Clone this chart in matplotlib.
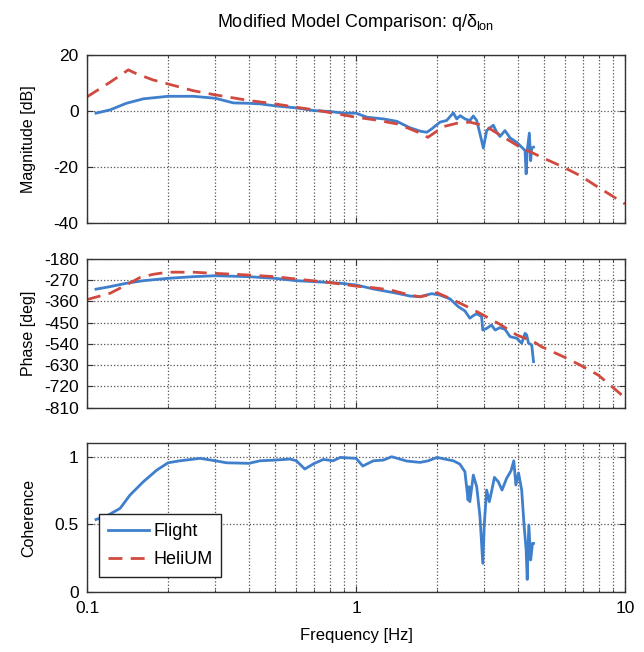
import numpy as np
import matplotlib
matplotlib.use("Agg")
import matplotlib.pyplot as plt
from matplotlib.ticker import FixedLocator, LogLocator, NullFormatter, FixedFormatter

FONT = ['Liberation Sans', 'DejaVu Sans']
plt.rcParams['font.family'] = FONT
plt.rcParams['mathtext.fontset'] = 'custom'
plt.rcParams['mathtext.rm'] = 'Liberation Sans'
plt.rcParams['mathtext.it'] = 'Liberation Sans'
plt.rcParams['axes.unicode_minus'] = False

# ---------------- data ----------------
mag_flight_f = [0.108, 0.1218, 0.140, 0.162, 0.2, 0.248, 0.3, 0.35, 0.4, 0.44, 0.5, 0.6, 0.7, 0.8, 0.9,
                1.0, 1.099, 1.264, 1.417, 1.587, 1.73, 1.832, 1.912, 2.052, 2.173, 2.30, 2.368, 2.44,
                2.543, 2.653, 2.73, 2.81, 2.89, 2.975, 3.06, 3.148, 3.24, 3.334, 3.43, 3.58, 3.74,
                3.96, 4.13, 4.25, 4.29, 4.33, 4.41, 4.46, 4.50, 4.57]
mag_flight_db = [-0.8, 0.36, 2.7, 4.3, 5.2, 5.2, 4.5, 2.85, 2.7, 2.5, 1.8, 1.07, 0.1, -0.2, -0.8,
                 -0.8, -2.25, -2.85, -3.7, -6.0, -7.2, -7.6, -6.4, -4.0, -3.4, -0.7, -2.85, -1.7,
                 -2.85, -3.4, -1.8, -3.4, -8.2, -13.2, -7.0, -6.0, -5.1, -7.6, -9.1, -7.0, -9.6,
                 -11.2, -12.9, -14.1, -22.4, -14.1, -7.9, -17.7, -13.2, -12.9]

mag_model_f = [0.1, 0.1218, 0.1424, 0.1529, 0.1763, 0.2, 0.248, 0.3, 0.4, 0.5, 0.6, 0.7, 0.8, 1.0,
               1.16, 1.417, 1.587, 1.73, 1.85, 1.97, 2.11, 2.37, 2.65, 2.89, 3.15, 3.63, 4.07,
               4.57, 4.90, 5.90, 6.80, 7.96, 10.0]
mag_model_db = [5.0, 10.2, 14.6, 13.2, 11.0, 9.6, 7.2, 5.7, 3.7, 2.5, 1.3, 0.36, -0.6, -2.25,
                -3.1, -4.6, -6.4, -7.9, -9.4, -7.6, -5.6, -4.4, -4.0, -4.9, -6.4, -10.0, -12.9,
                -15.1, -16.5, -20.0, -23.0, -27.2, -33.1]

ph_flight_f = [0.108, 0.122, 0.140, 0.162, 0.2, 0.248, 0.3, 0.4, 0.5, 0.6, 0.7, 0.8, 0.874, 1.0,
               1.16, 1.417, 1.587, 1.73, 1.91, 2.05, 2.236, 2.40, 2.54, 2.65, 2.73, 2.81, 2.93,
               2.96, 3.06, 3.19, 3.29, 3.43, 3.58, 3.74, 3.96, 4.13, 4.25, 4.31, 4.38, 4.50, 4.57]
ph_flight_deg = [-308, -297, -283, -272, -262, -255, -251, -255, -262, -272, -276, -280, -283, -290,
                 -307, -325, -337, -340, -327, -333, -349, -382, -400, -431, -420, -412, -424,
                 -481, -474, -460, -481, -471, -478, -509, -516, -537, -495, -502, -537, -544, -615]

ph_model_f = [0.1, 0.122, 0.14, 0.157, 0.176, 0.2, 0.248, 0.3, 0.4, 0.5, 0.6, 0.7, 0.8, 1.0,
              1.16, 1.34, 1.587, 1.73, 1.91, 2.0, 2.236, 2.59, 2.89, 3.43, 3.96, 4.57, 4.90,
              5.90, 6.80, 7.96, 10.0]
ph_model_deg = [-352, -325, -290, -259, -245, -236, -236, -241, -248, -255, -265, -273, -280, -295,
                -302, -311, -333, -340, -330, -323, -347, -382, -410, -457, -502, -530, -552,
                -594, -629, -672, -768]

coh_f = [0.108, 0.118, 0.1327, 0.1445, 0.162, 0.1815, 0.2, 0.2216, 0.263, 0.3, 0.33, 0.4, 0.44,
         0.5, 0.568, 0.6, 0.645, 0.7, 0.757, 0.822, 0.874, 0.9, 1.0, 1.06, 1.16, 1.264, 1.357,
         1.543, 1.73, 1.857, 2.0, 2.17, 2.30, 2.43, 2.54, 2.61, 2.63, 2.65, 2.73, 2.81, 2.89,
         2.96, 3.0, 3.06, 3.13, 3.19, 3.27, 3.38, 3.49, 3.63, 3.77, 3.86, 3.93, 4.02, 4.13,
         4.21, 4.29, 4.33, 4.39, 4.46, 4.53, 4.57]
coh_val = [0.535, 0.56, 0.617, 0.716, 0.815, 0.90, 0.955, 0.970, 0.988, 0.970, 0.955, 0.951, 0.97,
           0.975, 0.983, 0.97, 0.909, 0.951, 0.98, 0.97, 0.995, 0.993, 0.988, 0.931, 0.970, 0.975,
           1.0, 0.968, 0.958, 0.97, 0.995, 0.98, 0.970, 0.946, 0.889, 0.679, 0.778, 0.667, 0.864,
           0.778, 0.556, 0.21, 0.506, 0.753, 0.667, 0.741, 0.847, 0.815, 0.753, 0.84, 0.896,
           0.970, 0.79, 0.88, 0.753, 0.506, 0.309, 0.091, 0.494, 0.235, 0.358, 0.358]

mag_ticks = [-40, -20, 0, 20]
ph_ticks = [-810, -720, -630, -540, -450, -360, -270, -180]
coh_ticks = [0, 0.5, 1]
coh_labels = ['0', '0.5', '1']
freq_ticks = [0.1, 1, 10]
freq_labels = ['0.1', '1', '10']

BLUE = '#3f7fcc'
RED = '#d04a40'
EDGE = '#333333'

fig = plt.figure(figsize=(6.44, 6.52), dpi=100)
L, W = 0.1351, 0.8354
ax1 = fig.add_axes([L, 0.6575, W, 0.2586])
ax2 = fig.add_axes([L, 0.3747, W, 0.2281])
ax3 = fig.add_axes([L, 0.0925, W, 0.2277])

def style(ax):
    ax.set_xscale('log')
    ax.set_xlim(0.1, 10)
    ax.xaxis.set_major_locator(FixedLocator(freq_ticks))
    ax.xaxis.set_minor_locator(LogLocator(base=10, subs=np.arange(2, 10)))
    ax.xaxis.set_minor_formatter(NullFormatter())
    ax.grid(True, which='major', linestyle=':', color='#555555', linewidth=0.9)
    ax.grid(True, which='minor', axis='x', linestyle=':', color='#555555', linewidth=0.9)
    ax.tick_params(which='both', direction='in', top=True, right=True, colors=EDGE,
                   labelcolor='black', labelsize=12.5)
    ax.tick_params(axis='y', pad=6)
    ax.tick_params(axis='x', pad=7)
    ax.tick_params(which='major', length=4)
    ax.tick_params(which='minor', length=2)
    for s in ax.spines.values():
        s.set_color(EDGE)
        s.set_linewidth(1.0)
    ax.set_axisbelow(True)

for ax in (ax1, ax2, ax3):
    style(ax)

# magnitude
ax1.plot(mag_flight_f, mag_flight_db, color=BLUE, lw=2.0)
ax1.plot(mag_model_f, mag_model_db, color=RED, lw=2.0, dashes=(5, 3))
ax1.set_ylim(-40, 20)
ax1.set_yticks(mag_ticks)
ax1.tick_params(labelbottom=False)
ax1.set_ylabel('Magnitude [dB]', fontsize=11.5)
ax1.set_title(r'Modified Model Comparison: q/$\delta_{\mathrm{lon}}$', fontsize=13, pad=20)

# phase
ax2.plot(ph_flight_f, ph_flight_deg, color=BLUE, lw=2.0)
ax2.plot(ph_model_f, ph_model_deg, color=RED, lw=2.0, dashes=(5, 3))
ax2.set_ylim(-810, -180)
ax2.set_yticks(ph_ticks)
ax2.tick_params(labelbottom=False)
ax2.set_ylabel('Phase [deg]', fontsize=11.5)

# coherence
ax3.plot(coh_f, coh_val, color=BLUE, lw=2.0, label='Flight')
ax3.plot([], [], color=RED, lw=2.0, dashes=(5, 3), label='HeliUM')
ax3.set_ylim(0, 1.1)
ax3.yaxis.set_major_locator(FixedLocator(coh_ticks))
ax3.yaxis.set_major_formatter(FixedFormatter(coh_labels))
ax3.xaxis.set_major_formatter(FixedFormatter(freq_labels))
ax3.set_ylabel('Coherence', fontsize=11.5)
ax3.set_xlabel('Frequency [Hz]', fontsize=12, labelpad=8)
leg = ax3.legend(loc='lower left', bbox_to_anchor=(0.022, 0.097), fontsize=13,
                 fancybox=False, framealpha=1, edgecolor='#222222', handlelength=2.3,
                 handletextpad=0.2, borderpad=0.5, labelspacing=0.6, borderaxespad=0)
leg.get_frame().set_linewidth(1.0)

for ax in (ax1, ax2, ax3):
    ax.yaxis.set_label_coords(-0.095, 0.5)

fig.savefig('out.png', dpi=100, facecolor='white')
